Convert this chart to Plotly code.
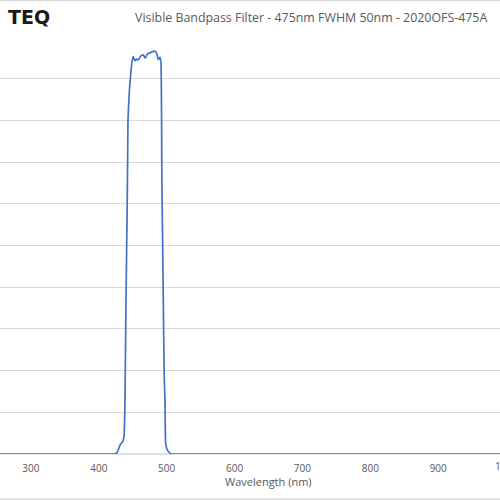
import plotly.graph_objects as go

# Transmission data (%)
wavelength = [250, 300, 350, 400, 415, 422, 426.4, 428.7, 431, 433, 435.2, 437.1, 438.1, 438.6,
              440, 441.5, 442.5, 443, 445, 447, 448.5, 450.6, 453.3, 455.8, 458.2, 461.7,
              465.5, 468.5, 471.4, 475.4, 479.4, 482.8, 485.3, 487.6, 490.1, 491.6, 493,
              494.5, 495.5, 496.5, 497.5, 498.5, 500.9, 504.9, 508, 550, 600, 700, 800,
              900, 1000, 1100]
transmission = [0, 0, 0, 0, 0, 0, 0.2, 1.0, 2.0, 2.6, 2.9, 4.1, 8, 13,
                 35, 55, 70, 80, 87, 91, 93.5, 95.3, 94.3, 94.7, 94.5, 95.4,
                 95.7, 94.9, 95.9, 96.2, 96.5, 96.6, 96.1, 94.6, 95.1, 93.8, 65,
                 45, 30, 17.7, 13, 2.6, 1.0, 0.2, 0, 0, 0, 0, 0,
                 0, 0, 0]

x_ticks = [300, 400, 500, 600, 700, 800, 900, 1000]
y_ticks = [0, 10, 20, 30, 40, 50, 60, 70, 80, 90, 100]

title_text = "Visible Bandpass Filter - 475nm FWHM 50nm - 2020OFS-475A"
x_title = "Wavelength (nm)"
logo_text = "TEQ"

x_range = [254.5, 991]
grey = "#595959"
grid = "#d9d9d9"
font_family = "Open Sans, Noto Sans, sans-serif"

fig = go.Figure()
fig.add_trace(go.Scatter(x=wavelength, y=transmission, mode="lines",
                         line=dict(color="#4472C4", width=1.7, shape="spline", smoothing=0.4),
                         hoverinfo="skip", showlegend=False))

fig.update_layout(
    width=500, height=500,
    margin=dict(l=0, r=0, t=37, b=46),
    paper_bgcolor="white", plot_bgcolor="white",
    xaxis=dict(range=x_range, tickvals=x_ticks, ticktext=[str(v) for v in x_ticks],
               showgrid=False, zeroline=False, showline=False,
               ticks="outside", ticklen=5, tickcolor="rgba(0,0,0,0)",
               tickfont=dict(family=font_family, size=10, color=grey)),
    yaxis=dict(range=[0, 100], tickvals=y_ticks, showgrid=True, gridcolor=grid,
               gridwidth=1, zeroline=False, showline=False, showticklabels=False, ticks=""),
    showlegend=False,
)

# x axis baseline
fig.add_shape(type="line", xref="paper", yref="paper", x0=0, x1=1, y0=0, y1=0,
              line=dict(color=grid, width=1.5), layer="below")
# chart border lines (top / bottom)
for yv in [(454 - 0.5) / 417, (454 - 499) / 417]:
    fig.add_shape(type="line", xref="paper", yref="paper", x0=0, x1=1, y0=yv, y1=yv,
                  line=dict(color=grid, width=1.5))

# cut-off "1000" tick label at right edge (as in the cropped original)
fig.add_annotation(text="1000", xref="paper", yref="paper",
                   x=(1000 - x_range[0]) / (x_range[1] - x_range[0]), y=(454 - 466) / 417,
                   showarrow=False, xanchor="center", yanchor="middle",
                   font=dict(family=font_family, size=10, color=grey))

fig.add_annotation(text=x_title, xref="paper", yref="paper", x=268 / 500, y=(454 - 481) / 417,
                   showarrow=False, xanchor="center", yanchor="middle",
                   font=dict(family=font_family, size=11, color=grey))

fig.add_annotation(text=title_text, xref="paper", yref="paper", x=133 / 500, y=(454 - 17) / 417,
                   showarrow=False, xanchor="left", yanchor="middle",
                   font=dict(family=font_family, size=12.4, color=grey))

fig.add_annotation(text="<b>" + logo_text + "</b>", xref="paper", yref="paper",
                   x=52 / 500, y=(454 - 17) / 417,
                   showarrow=False, xanchor="right", yanchor="middle",
                   font=dict(family="DejaVu Sans, sans-serif", size=19, color="#1a1a1a"))

fig.write_html("out.html", config={"displayModeBar": False},
               post_script="document.body.style.margin='0px';document.body.style.overflow='hidden';")
